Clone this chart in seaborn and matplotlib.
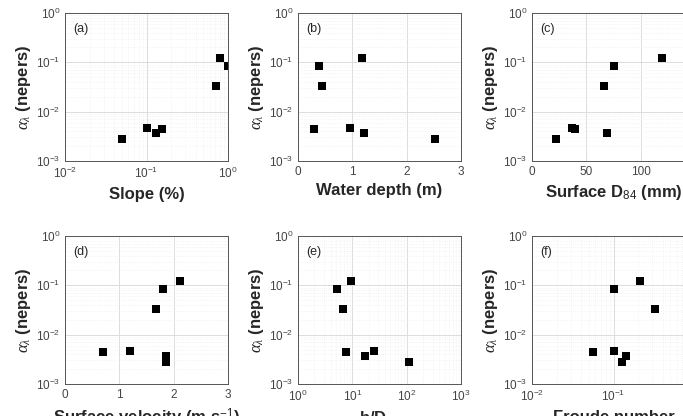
import matplotlib

matplotlib.use("Agg")
import matplotlib.pyplot as plt
import numpy as np
import pandas as pd
import seaborn as sns
from matplotlib.ticker import LogLocator, NullFormatter

# attenuation per site (same order in every panel)
alpha = [0.124, 0.085, 0.033, 0.0047, 0.0045, 0.0037, 0.0028]

slope = [0.79, 1.0, 0.72, 0.10, 0.154, 0.132, 0.050]
depth = [1.18, 0.39, 0.45, 0.96, 0.30, 1.21, 2.52]
d84 = [120, 75, 66.5, 36.5, 40, 68.7, 22.3]
velocity = [2.12, 1.81, 1.67, 1.20, 0.70, 1.85, 1.85]
rel_rough = [9.5, 5.2, 6.7, 25.4, 7.5, 17.3, 109]
froude = [0.209, 0.10, 0.319, 0.10, 0.0557, 0.144, 0.127]

panel_letters = ["(a)", "(b)", "(c)", "(d)", "(e)", "(f)"]
x_labels = [
    "Slope (%)",
    "Water depth (m)",
    r"Surface D$_{84}$ (mm)",
    r"Surface velocity (m s$^{-1}$)",
    r"h/D$_{84}$",
    "Froude number",
]
x_data = [slope, depth, d84, velocity, rel_rough, froude]
x_log = [True, False, False, False, True, True]
x_lims = [(1e-2, 1e0), (0, 3), (0, 150), (0, 3), (1e0, 1e3), (1e-2, 1e0)]
x_ticks = [None, [0, 1, 2, 3], [0, 50, 100, 150], [0, 1, 2, 3], None, None]

sns.set_style("white")
plt.rcParams["font.family"] = ["Liberation Sans", "DejaVu Sans"]
plt.rcParams["mathtext.fontset"] = "custom"
plt.rcParams["mathtext.rm"] = "Liberation Sans"
plt.rcParams["mathtext.it"] = "Liberation Serif:italic"
plt.rcParams["mathtext.bf"] = "Liberation Sans:bold"

fig = plt.figure(figsize=(6.83, 4.16), dpi=100)

W, H = 683, 416
lefts = [65, 298, 532]
tops = [13, 236]
ax_w, ax_h = 163, 148

tick_col = "#444444"
for i in range(6):
    row, col = divmod(i, 3)
    x0 = lefts[col] / W
    y0 = 1 - (tops[row] + ax_h) / H
    ax = fig.add_axes([x0, y0, ax_w / W, ax_h / H])

    df = pd.DataFrame({"x": x_data[i], "alpha": alpha})
    sns.scatterplot(data=df, x="x", y="alpha", marker="s", s=30,
                    color="black", edgecolor="black", linewidth=0, ax=ax)

    ax.set_yscale("log")
    ax.set_ylim(1e-3, 1e0)
    if x_log[i]:
        ax.set_xscale("log")
        ax.xaxis.set_minor_locator(LogLocator(base=10, subs=np.arange(2, 10)))
        ax.xaxis.set_minor_formatter(NullFormatter())
    ax.set_xlim(*x_lims[i])
    if x_ticks[i] is not None:
        ax.set_xticks(x_ticks[i])
    ax.set_yticks([1e-3, 1e-2, 1e-1, 1e0])
    ax.yaxis.set_minor_locator(LogLocator(base=10, subs=np.arange(2, 10)))
    ax.yaxis.set_minor_formatter(NullFormatter())

    ax.grid(True, which="major", color="#dcdcdc", linewidth=0.7)
    ax.grid(True, which="minor", color="#ececec", linewidth=0.5, linestyle=":")
    ax.set_axisbelow(True)

    ax.tick_params(axis="both", which="both", direction="in", colors=tick_col,
                   labelsize=8.5, length=2.5, width=0.6)
    ax.tick_params(which="minor", length=1.5)
    for sp in ax.spines.values():
        sp.set_color("#555555")
        sp.set_linewidth(0.7)

    ax.set_xlabel(x_labels[i], fontsize=12, fontweight="bold", color="#262626",
                  labelpad=4)
    ax.set_ylabel(r"$\alpha_{\lambda}$ (nepers)", fontsize=12, fontweight="bold",
                  color="#262626", labelpad=2)
    ax.text(0.05, 0.93, panel_letters[i], transform=ax.transAxes, fontsize=9,
            color="#262626", va="top", ha="left")

fig.savefig("out.png", dpi=100)
